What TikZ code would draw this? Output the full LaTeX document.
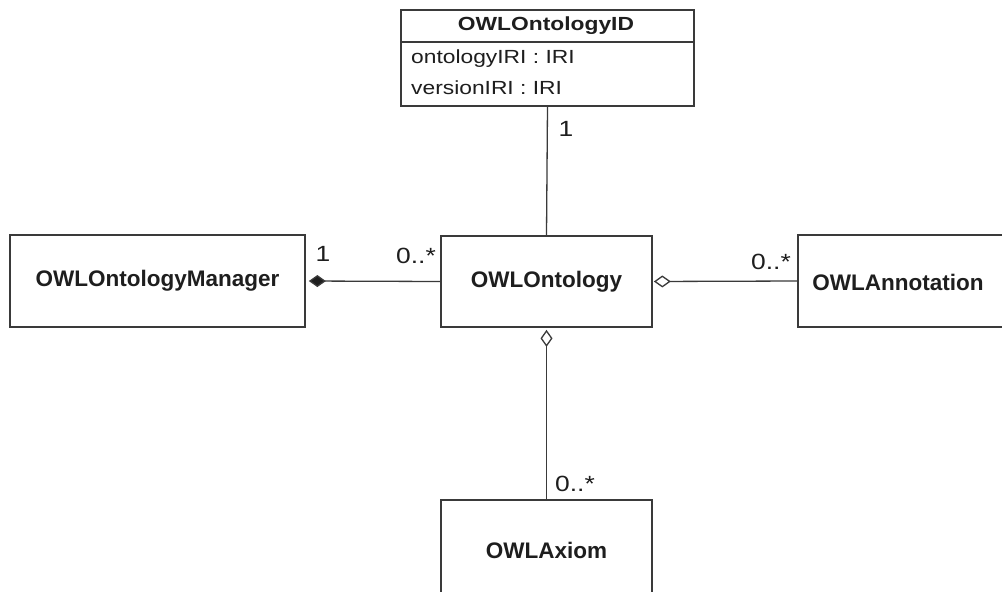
\documentclass[tikz,border=0pt]{standalone}
\usepackage{fontspec}
\setmainfont{Liberation Sans}
\newfontfamily\widesans[FakeStretch=1.2]{Liberation Sans}
\usetikzlibrary{arrows.meta}
\definecolor{edge}{HTML}{3A3A3A}
\definecolor{ink}{HTML}{1E1E1E}
\tikzset{
  classbox/.style={draw=edge, line width=1.7pt, fill=white, rectangle, inner sep=0pt,
    font=\fontsize{22.5}{26}\selectfont\bfseries, text=ink},
  assoc/.style={draw=edge, line width=1.3pt},
  mult/.style={font=\widesans\fontsize{22}{26}\selectfont, text=ink, inner sep=0pt},
  attr/.style={font=\widesans\fontsize{19}{22}\selectfont, text=ink, inner sep=0pt, anchor=west},
  comp/.style={{Diamond[length=17pt,width=12pt,fill=ink]}-},
  aggr/.style={{Diamond[length=17pt,width=12pt,open,fill=white]}-},
}
\begin{document}
\begin{tikzpicture}[x=1pt,y=-1pt]
\useasboundingbox[fill=white] (0,0) rectangle (1002,592);

% class boxes
\node[classbox, minimum width=295pt, minimum height=92pt] (mgr) at (157.5,281) {OWLOntologyManager};
\node[classbox, minimum width=211pt, minimum height=91pt] (ont) at (546.5,281.5) {OWLOntology};
\node[classbox, minimum width=211pt, minimum height=100pt] (axm) at (546.5,550) {OWLAxiom};

% the annotation class runs past the right margin, so only three sides show
\coordinate (annL) at (798,281);
\draw[edge, line width=1.7pt] (1010,235) -- (798,235) -- (798,327) -- (1010,327);
\node[font=\fontsize{22.5}{26}\selectfont\bfseries, text=ink, inner sep=0pt] (ann) at (898,282) {OWLAnnotation};

% OWLOntologyID with its attribute compartment
\node[classbox, minimum width=293pt, minimum height=96pt] (oid) at (547.5,58) {};
\draw[edge, line width=1.7pt] (401,42) -- (694,42);
\node[font=\widesans\fontsize{19}{22}\selectfont\bfseries, text=ink, inner sep=0pt] (oidname) at (546,26) {OWLOntologyID};
\node[attr] (a1) at (411,59) {ontologyIRI : IRI};
\node[attr] (a2) at (411,88) {versionIRI : IRI};

% associations
\draw[assoc] (oid.south) -- (ont.north);
\draw[assoc, comp, shorten <=3pt] (mgr.east) -- (ont.west);
\draw[assoc, aggr, shorten <=1pt] (ont.east) -- (annL);
\draw[assoc, aggr, shorten <=2pt] (ont.south) -- (axm.north);

% multiplicities
\node[mult] (m1) at (566,129) {1};
\node[mult] (m2) at (323,254) {1};
\node[mult] (m3) at (416,256) {0..*};
\node[mult] (m4) at (771,262) {0..*};
\node[mult] (m5) at (575,484) {0..*};
\end{tikzpicture}
\end{document}
